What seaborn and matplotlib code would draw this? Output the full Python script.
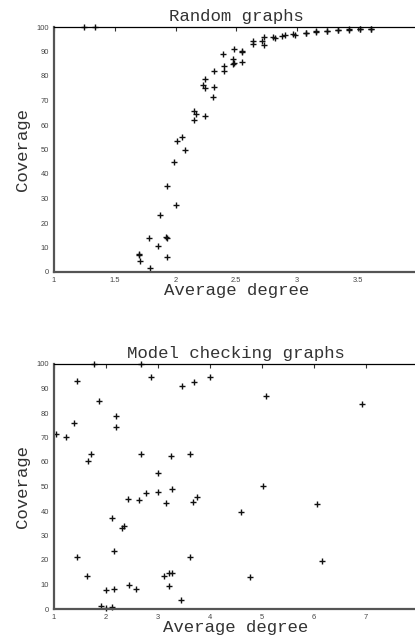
import numpy as np
import pandas as pd
import matplotlib
matplotlib.use("Agg")
import matplotlib.pyplot as plt
import seaborn as sns

# Random graphs data
rand_deg = [1.25, 1.34,
            1.70, 1.70, 1.71, 1.78, 1.79, 1.86, 1.87, 1.92, 1.93, 1.93, 1.93, 1.99, 2.00,
            2.01, 2.05, 2.08, 2.15, 2.155, 2.17, 2.23, 2.24, 2.24, 2.24, 2.31, 2.32, 2.32,
            2.39, 2.40, 2.40, 2.47, 2.47, 2.48, 2.48, 2.545, 2.55, 2.55, 2.635, 2.64,
            2.71, 2.73, 2.73, 2.80, 2.82, 2.88, 2.90, 2.97, 2.98, 3.07, 3.07, 3.16, 3.16,
            3.25, 3.25, 3.34, 3.34, 3.43, 3.43, 3.52, 3.52, 3.61, 3.61]
rand_cov = [100, 100,
            7.1, 7.3, 4.3, 13.9, 1.8, 10.6, 23.1, 14.3, 13.7, 6.0, 35.3, 45.0, 27.3,
            53.6, 54.9, 49.7, 62.1, 65.6, 64.3, 76.3, 75.2, 78.7, 63.6, 71.6, 75.6, 82.0,
            88.8, 84.2, 82.2, 87.0, 84.9, 85.2, 91.0, 90.2, 89.7, 85.7, 94.4, 92.9,
            94.4, 96.0, 92.8, 96.0, 95.6, 96.5, 96.9, 97.1, 96.6, 97.7, 97.4, 98.0, 98.5,
            98.5, 98.2, 98.6, 98.9, 99.0, 98.8, 99.2, 99.0, 99.3, 99.1]

# Model checking graphs data
mc_deg = [1.03, 1.23, 1.38, 1.45, 1.44, 1.64, 1.66, 1.72, 1.76, 1.86, 1.90, 2.00, 2.00,
          2.12, 2.12, 2.15, 2.16, 2.19, 2.19, 2.31, 2.35, 2.42, 2.45, 2.58, 2.63, 2.67,
          2.67, 2.76, 2.87, 3.00, 3.00, 3.12, 3.15, 3.21, 3.22, 3.26, 3.25, 3.26, 3.45,
          3.46, 3.61, 3.61, 3.67, 3.69, 3.75, 4.00, 4.59, 4.76, 5.01, 5.07, 6.06, 6.15, 6.93]
mc_cov = [71.5, 70.3, 76.0, 93.1, 21.3, 13.3, 60.4, 63.3, 100, 84.9, 1.1, 0.5, 7.6,
          0.8, 37.3, 8.2, 23.5, 78.9, 74.4, 32.9, 33.7, 44.8, 9.9, 8.2, 44.5, 100,
          63.3, 47.5, 94.8, 55.6, 47.8, 13.3, 43.1, 9.4, 14.8, 14.8, 62.4, 49.1, 3.7,
          91.0, 21.2, 63.4, 43.5, 92.8, 45.7, 94.8, 39.6, 13.1, 50.2, 86.9, 42.7, 19.7, 83.7]

titles = ["Random graphs", "Model checking graphs"]
xticks_top = [1, 1.5, 2, 2.5, 3, 3.5]
xticks_bot = [1, 2, 3, 4, 5, 6, 7]
yticks = [0, 10, 20, 30, 40, 50, 60, 70, 80, 90, 100]

sns.set_style("white")
plt.rcParams['font.family'] = ['Liberation Sans', 'DejaVu Sans']

W, H = 415, 636
fig = plt.figure(figsize=(W / 100, H / 100), dpi=100)
ax1 = fig.add_axes([54 / W, (H - 272) / H, (418.5 - 54) / W, 245 / H])
ax2 = fig.add_axes([54 / W, (H - 609) / H, (418 - 54) / W, 245 / H])

df1 = pd.DataFrame({"deg": rand_deg, "cov": rand_cov})
df2 = pd.DataFrame({"deg": mc_deg, "cov": mc_cov})

mono = 'Liberation Mono'
for ax, df, title, xt, xlim in [(ax1, df1, titles[0], xticks_top, (1, 4.0)),
                                (ax2, df2, titles[1], xticks_bot, (1, 8.0))]:
    sns.scatterplot(data=df, x="deg", y="cov", ax=ax, marker="+", color="#111111",
                    s=13, linewidth=1.0, clip_on=False, legend=False)
    ax.set_xlim(*xlim)
    ax.set_ylim(0, 100)
    ax.set_xticks(xt)
    ax.set_xticklabels([("%g" % v) for v in xt])
    ax.set_yticks(yticks)
    ax.tick_params(direction="in", length=3, width=0.8, top=True, right=False,
                   labelsize=5.4, labelcolor="#444444", color="#333333", pad=3.5)
    for side in ["left", "bottom"]:
        ax.spines[side].set_linewidth(1.6)
        ax.spines[side].set_color("#555555")
    ax.spines["top"].set_linewidth(0.9)
    ax.spines["top"].set_color("black")
    ax.spines["right"].set_visible(False)
    ax.set_title(title, family=mono, fontsize=12.5, color="#333333", pad=4)
    ax.set_xlabel("Average degree", family=mono, fontsize=12.5, color="#333333")
    ax.xaxis.set_label_coords(0.5, -0.045)
    ax.set_ylabel("Coverage", family=mono, fontsize=12.5, color="#333333", labelpad=5)

fig.savefig("out.png", dpi=100)
